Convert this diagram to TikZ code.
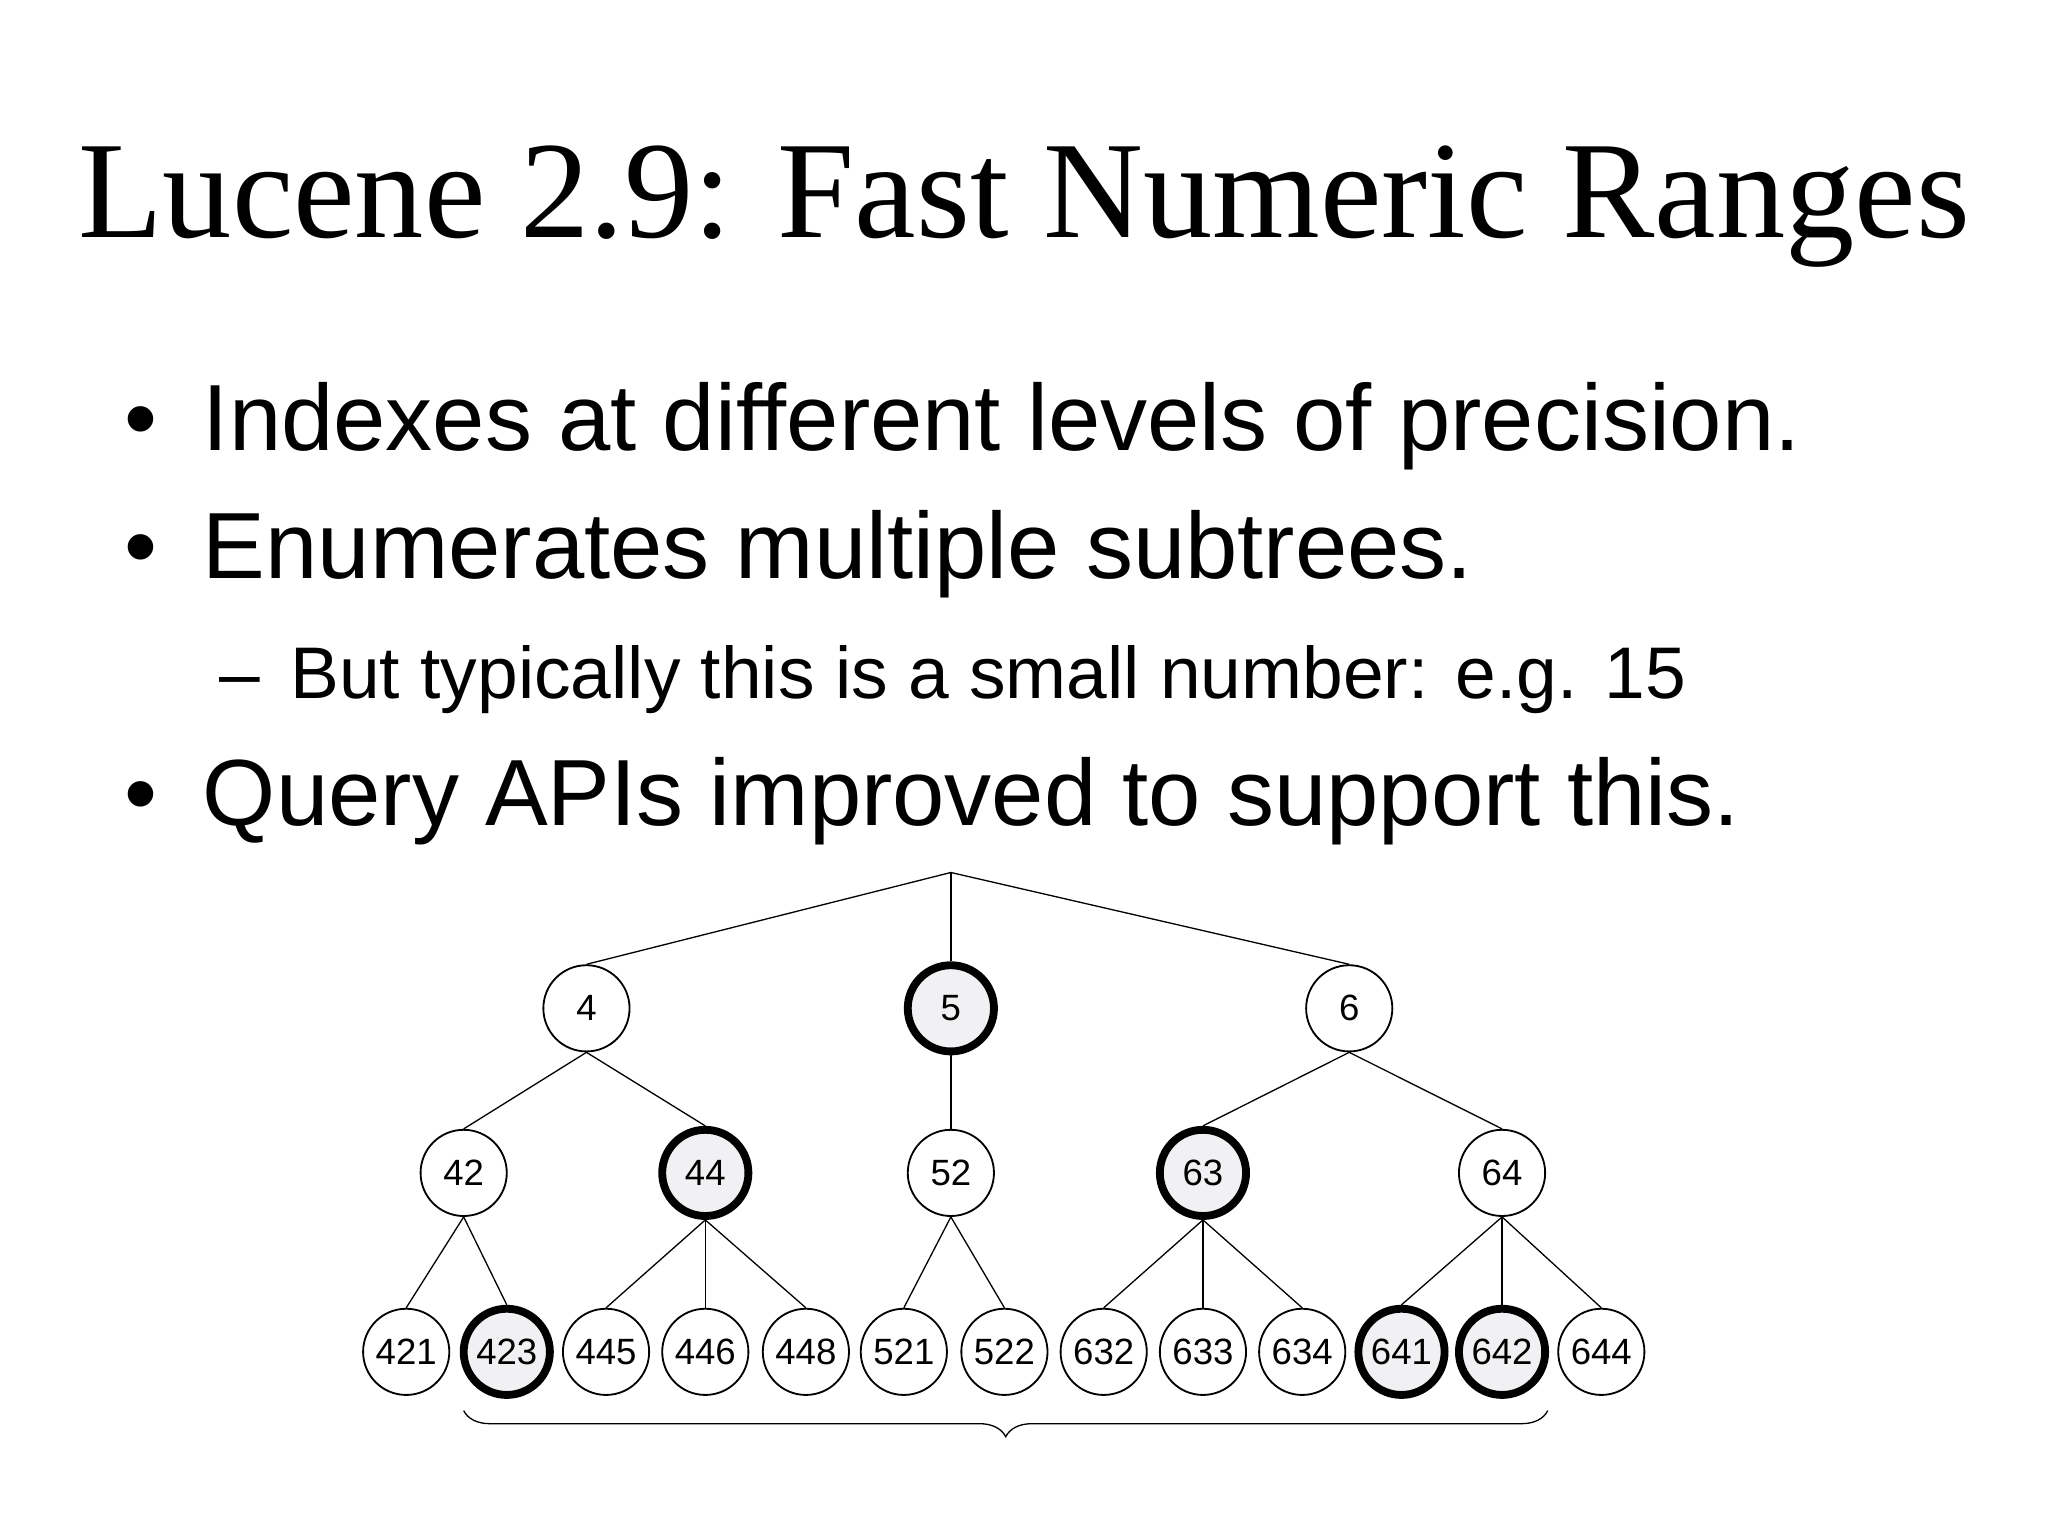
\documentclass[tikz,border=0pt]{standalone}
\usepackage{fontspec}
\setmainfont{Liberation Serif}
\newfontfamily\arial{Liberation Sans}
\usetikzlibrary{decorations.pathreplacing}
\begin{document}
\begin{tikzpicture}[x=0.5pt,y=-0.5pt,
  nd/.style={circle,draw,line width=0.7pt,minimum size=33pt,inner sep=0pt,font=\arial\fontsize{14}{14}\selectfont,fill=white},
  hl/.style={nd,line width=3pt,fill=blue!8!gray!10},
  ed/.style={line width=0.5pt}]
\useasboundingbox (0,0) rectangle (1568,1176);
\node[anchor=base,font=\fontsize{53}{53}\selectfont] (title) at (784,182) {Lucene 2.9: Fast Numeric Ranges};
\begin{scope}[every node/.style={anchor=base west,font=\arial\fontsize{36}{36}\selectfont,inner sep=0pt}]
\node (b1) at (95,345) {•};
\node (t1) at (155,345) {Indexes at different levels of precision.};
\node (b2) at (95,443) {•};
\node (t2) at (155,443) {Enumerates multiple subtrees.};
\node[font=\arial\fontsize{28}{28}\selectfont] (d3) at (168,535) {–};
\node[font=\arial\fontsize{28}{28}\selectfont] (t3) at (222,535) {But typically this is a small number: e.g. 15};
\node (b4) at (95,632) {•};
\node (t4) at (155,632) {Query APIs improved to support this.};
\end{scope}
\coordinate (r) at (728,668);
\node[nd] (n4) at (449,772) {4};
\node[hl] (n5) at (728,772) {5};
\node[nd] (n6) at (1033,772) {6};
\node[nd] (n42) at (355,898) {42};
\node[hl] (n44) at (540,898) {44};
\node[nd] (n52) at (728,898) {52};
\node[hl] (n63) at (921,898) {63};
\node[nd] (n64) at (1150,898) {64};
\foreach \n/\x/\s in {421/311/nd,423/388/hl,445/464/nd,446/540/nd,448/617/nd,521/692/nd,522/769/nd,632/845/nd,633/921/nd,634/997/nd,641/1073/hl,642/1150/hl,644/1226/nd}
  \node[\s] (n\n) at (\x,1035) {\n};
\foreach \a/\b in {4/42,4/44,5/52,6/63,6/64,42/421,42/423,44/445,44/446,44/448,52/521,52/522,63/632,63/633,63/634,64/641,64/642,64/644}
  \draw[ed] (n\a.south) -- (n\b.north);
\foreach \b in {4,5,6} \draw[ed] (r) -- (n\b.north);
\coordinate (bl) at (355,1080);
\coordinate (br) at (1185,1080);
\draw[ed,decorate,decoration={brace,mirror,amplitude=10pt}] (bl) -- (br);
\end{tikzpicture}
\end{document}
